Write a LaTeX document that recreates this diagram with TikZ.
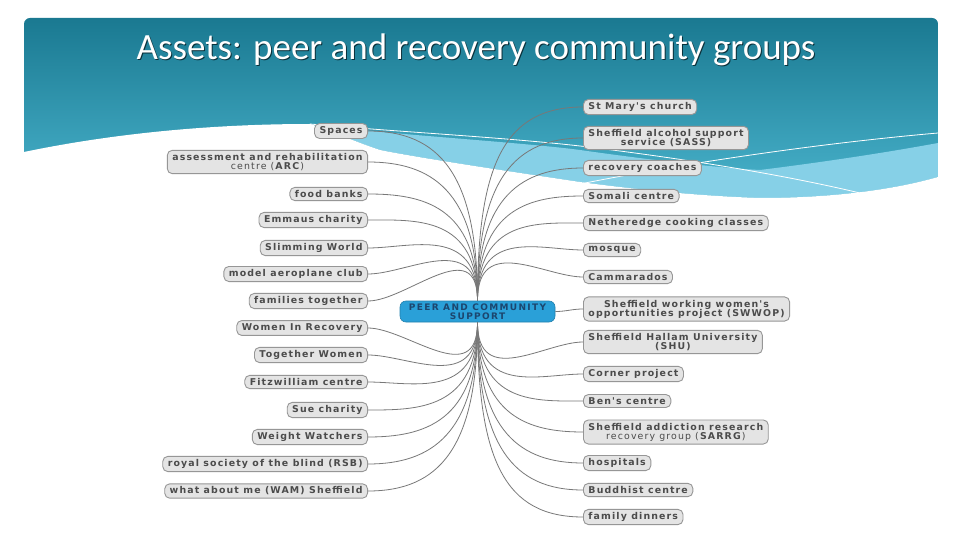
\documentclass[tikz,border=0pt]{standalone}
\usepackage{fontspec}
\newfontfamily\titlefont{Carlito}
\newfontfamily\nodefont[LetterSpace=12]{DejaVu Sans}
\newfontfamily\hubfont[LetterSpace=15]{DejaVu Sans}
\definecolor{tealtop}{RGB}{26,121,145}
\definecolor{tealbot}{RGB}{74,180,205}
\definecolor{lightband}{RGB}{134,208,231}
\definecolor{boxfill}{RGB}{228,228,228}
\definecolor{boxline}{RGB}{150,150,150}
\definecolor{boxtext}{RGB}{75,75,75}
\definecolor{linkcol}{RGB}{120,120,120}
\definecolor{hubfill}{RGB}{42,160,216}
\definecolor{hubtext}{RGB}{28,70,110}
\tikzset{
  box/.style={draw=boxline, fill=boxfill, rounded corners=5pt, line width=0.9pt,
    font=\nodefont\bfseries\fontsize{9.4}{10}\selectfont, text=boxtext,
    inner xsep=5pt, inner ysep=3pt, align=center},
  lbox/.style={box, anchor=east},
  rbox/.style={box, anchor=west},
  hubbox/.style={draw=hubfill!80!black, fill=hubfill, rounded corners=6pt, line width=0.6pt,
    font=\hubfont\bfseries\fontsize{9}{9.2}\selectfont, text=hubtext, align=center,
    minimum width=155pt, minimum height=21pt, inner sep=1pt},
  link/.style={draw=linkcol, line width=0.8pt},
  wline/.style={draw=white, line width=0.8pt}
}
\begin{document}
\begin{tikzpicture}[x=1pt,y=1pt]
\useasboundingbox (0,0) rectangle (960,-540);
% slide background
\begin{scope}
\clip[rounded corners=6pt] (24,-18) rectangle (938,-600);
\shade[top color=tealtop, bottom color=tealbot] (24,-18) rectangle (938,-200);
\fill[lightband] (310,-124) .. controls (380,-134) and (520,-142) .. (580,-150)
   .. controls (650,-160) and (720,-168) .. (760,-170)
   .. controls (840,-160) and (900,-150) .. (938,-143) -- (938,-177)
   .. controls (900,-188) and (840,-198) .. (760,-198)
   .. controls (700,-196) and (640,-190) .. (580,-182)
   .. controls (500,-170) and (420,-158) .. (380,-150)
   .. controls (350,-140) and (330,-130) .. (310,-124) -- cycle;
\fill[white] (24,-152) .. controls (120,-132) and (220,-124) .. (310,-124)
   .. controls (330,-130) and (350,-140) .. (380,-150)
   .. controls (420,-158) and (500,-170) .. (580,-182)
   .. controls (640,-190) and (700,-196) .. (760,-198)
   .. controls (840,-198) and (900,-188) .. (938,-177)
   -- (938,-600) -- (24,-600) -- cycle;
\draw[wline] (310,-124) .. controls (400,-132) and (500,-137) .. (580,-146)
   .. controls (680,-158) and (780,-174) .. (860,-193);
\draw[wline] (580,-184) .. controls (660,-168) and (800,-145) .. (938,-133);
\end{scope}
% title
\node[font=\titlefont\fontsize{37}{44}\selectfont, text=black!60!tealtop, anchor=base] at (477,-61) {Assets: peer and recovery community groups};
\node[font=\titlefont\fontsize{37}{44}\selectfont, text=white, anchor=base] (title) at (476,-60) {Assets: peer and recovery community groups};
% hub
\node[hubbox] (hub) at (477.5,-311.5) {PEER AND COMMUNITY\\SUPPORT};
% left nodes
\node[lbox] (L1) at (368,-131) {Spaces};
\node[lbox] (L2) at (368,-162) {assessment and rehabilitation\\[-1pt]\mdseries centre (\textbf{ARC})};
\node[lbox] (L3) at (368,-194) {food banks};
\node[lbox] (L4) at (368,-220) {Emmaus charity};
\node[lbox] (L5) at (368,-248) {Slimming World};
\node[lbox] (L6) at (368,-274) {model aeroplane club};
\node[lbox] (L7) at (368,-301) {families together};
\node[lbox] (L8) at (368,-328) {Women In Recovery};
\node[lbox] (L9) at (368,-355) {Together Women};
\node[lbox] (L10) at (368,-382) {Fitzwilliam centre};
\node[lbox] (L11) at (368,-410) {Sue charity};
\node[lbox] (L12) at (368,-437) {Weight Watchers};
\node[lbox] (L13) at (368,-464) {royal society of the blind (RSB)};
\node[lbox] (L14) at (368,-491) {what about me (WAM) Sheffield};
% right nodes
\node[rbox] (R1) at (583,-107) {St Mary's church};
\node[rbox] (R2) at (583,-138) {Sheffield alcohol support\\[-1pt]service (SASS)};
\node[rbox] (R3) at (583,-168) {recovery coaches};
\node[rbox] (R4) at (583,-196) {Somali centre};
\node[rbox] (R5) at (583,-223) {Netheredge cooking classes};
\node[rbox] (R6) at (583,-250) {mosque};
\node[rbox] (R7) at (583,-277) {Cammarados};
\node[rbox] (R8) at (583,-309) {Sheffield working women's\\[-1pt]opportunities project (SWWOP)};
\node[rbox] (R9) at (583,-342) {Sheffield Hallam University\\[-1pt](SHU)};
\node[rbox] (R10) at (583,-374) {Corner project};
\node[rbox] (R11) at (583,-401) {Ben's centre};
\node[rbox] (R12) at (583,-432) {Sheffield addiction research\\[-1pt]\mdseries recovery group (\textbf{SARRG})};
\node[rbox] (R13) at (583,-463) {hospitals};
\node[rbox] (R14) at (583,-490) {Buddhist centre};
\node[rbox] (R15) at (583,-517) {family dinners};
% links
\tikzset{hubcurve/.style={out looseness=1.6, in looseness=0.9}}
\foreach \i in {1,...,7} \draw[link] (hub.north) to[out=90,in=0,hubcurve] (L\i.east);
\foreach \i in {8,...,14} \draw[link] (hub.south) to[out=-90,in=0,hubcurve] (L\i.east);
\foreach \i in {1,...,7} \draw[link] (hub.north) to[out=90,in=180,hubcurve] (R\i.west);
\draw[link] (hub.east) to[out=0,in=180] (R8.west);
\foreach \i in {9,...,15} \draw[link] (hub.south) to[out=-90,in=180,hubcurve] (R\i.west);
\end{tikzpicture}
\end{document}
